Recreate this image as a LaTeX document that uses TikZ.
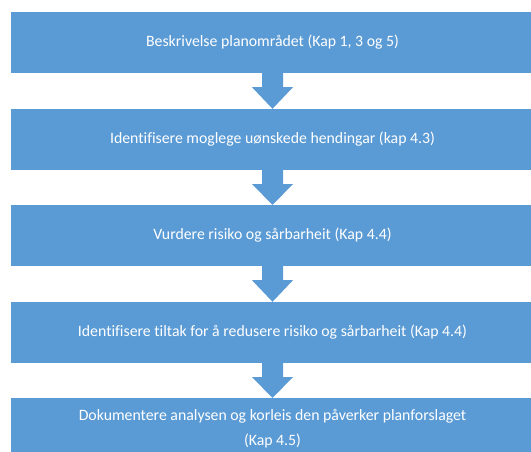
\documentclass[tikz,border=0pt]{standalone}
\usepackage{fontspec}
\setmainfont{Carlito}[Ligatures=NoCommon]
\usetikzlibrary{calc}
\definecolor{officeblue}{HTML}{5B9BD5}
\tikzset{
  stepbox/.style={fill=officeblue, draw=none, text=white, minimum width=523pt, minimum height=61pt,
    inner sep=0pt, align=center, font=\fontsize{15.8}{25}\selectfont},
  flowarr/.style={fill=officeblue, draw=none}
}
\newcommand\flowarrow[2]{%
  \fill[flowarr] ($(#1.south)+(-10.5,0)$) -- ($(#1.south)+(10.5,0)$) -- ($(#1.south)+(10.5,14)$)
    -- ($(#1.south)+(20.5,14)$) -- (#2.north) -- ($(#1.south)+(-20.5,14)$)
    -- ($(#1.south)+(-10.5,14)$) -- cycle;}
\begin{document}
\begin{tikzpicture}[x=1pt,y=-1pt]
\useasboundingbox (0,0) rectangle (531,452);
\clip (0,0) rectangle (531,452);
\node[stepbox] (b1) at (272.5,42.5) {Beskrivelse planområdet (Kap 1, 3 og 5)};
\node[stepbox] (b2) at (272.5,139.5) {Identifisere moglege uønskede hendingar (kap 4.3)};
\node[stepbox] (b3) at (272.5,235.5) {Vurdere risiko og sårbarheit (Kap 4.4)};
\node[stepbox] (b4) at (272.5,332.5) {Identifisere tiltak for å redusere risiko og sårbarheit (Kap 4.4)};
\node[stepbox] (b5) at (272.5,428.5) {Dokumentere analysen og korleis den påverker planforslaget\\(Kap 4.5)};
\flowarrow{b1}{b2}
\flowarrow{b2}{b3}
\flowarrow{b3}{b4}
\flowarrow{b4}{b5}
\end{tikzpicture}
\end{document}
